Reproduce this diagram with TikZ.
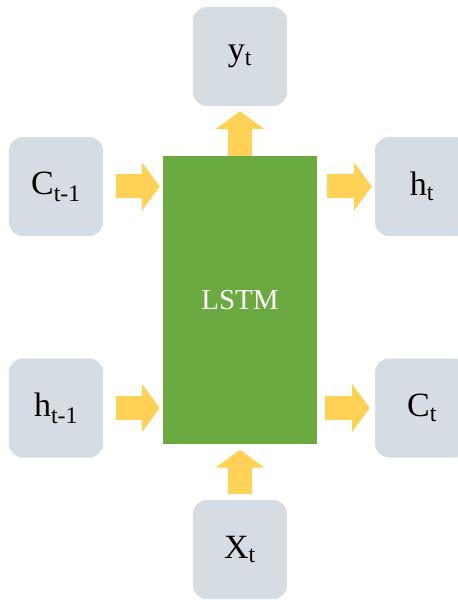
\documentclass[tikz,border=0pt]{standalone}
\usepackage{fontspec}
\setmainfont{Liberation Serif}
\usetikzlibrary{arrows.meta}
\definecolor{boxgray}{HTML}{D6DCE4}
\definecolor{lstmgreen}{HTML}{6BAA40}
\definecolor{flowyellow}{HTML}{FFD156}

\begin{document}
\begin{tikzpicture}[x=1pt,y=1pt,
  io node/.style={rectangle,rounded corners=14pt,fill=boxgray,minimum width=94pt,
    minimum height=99pt,font=\fontsize{34}{40}\selectfont},
  cell node/.style={rectangle,fill=lstmgreen,minimum width=154pt,minimum height=287pt,
    text=white,font=\fontsize{29}{34}\selectfont},
  flow/.style={draw=flowyellow,line width=24pt,shorten <=10pt,shorten >=4pt,
    -{Triangle[width=48pt,length=18pt,fill=flowyellow]}}]

  \clip (-240,-300) rectangle (218,300);

  \node[cell node] (lstm) {LSTM};
  \node[io node] (yt) at (0,243.5) {y\textsubscript{t}};
  \node[io node] (ct1) at (-184,113.5) {C\textsubscript{t-1}};
  \node[io node] (ht) at (182,113.5) {h\textsubscript{t}};
  \node[io node] (ht1) at (-184,-108) {h\textsubscript{t-1}};
  \node[io node] (ct) at (182,-108) {C\textsubscript{t}};
  \node[io node] (xt) at (0,-249.5) {X\textsubscript{t}};

  \path[every edge/.style={flow}]
    (ct1.east) edge[shorten <=13pt,shorten >=3pt] (ct1 -| lstm.west)
    (ht1.east) edge[shorten <=13pt,shorten >=3pt] (ht1 -| lstm.west)
    (ht -| lstm.east) edge[shorten >=3pt] (ht.west)
    (ct -| lstm.east) edge[shorten <=8pt,shorten >=5pt] (ct.west)
    (lstm.north) edge[shorten <=0pt,shorten >=5pt] (yt.south)
    (xt.north) edge[shorten <=6pt,shorten >=6pt] (lstm.south)
    ;
\end{tikzpicture}
\end{document}
